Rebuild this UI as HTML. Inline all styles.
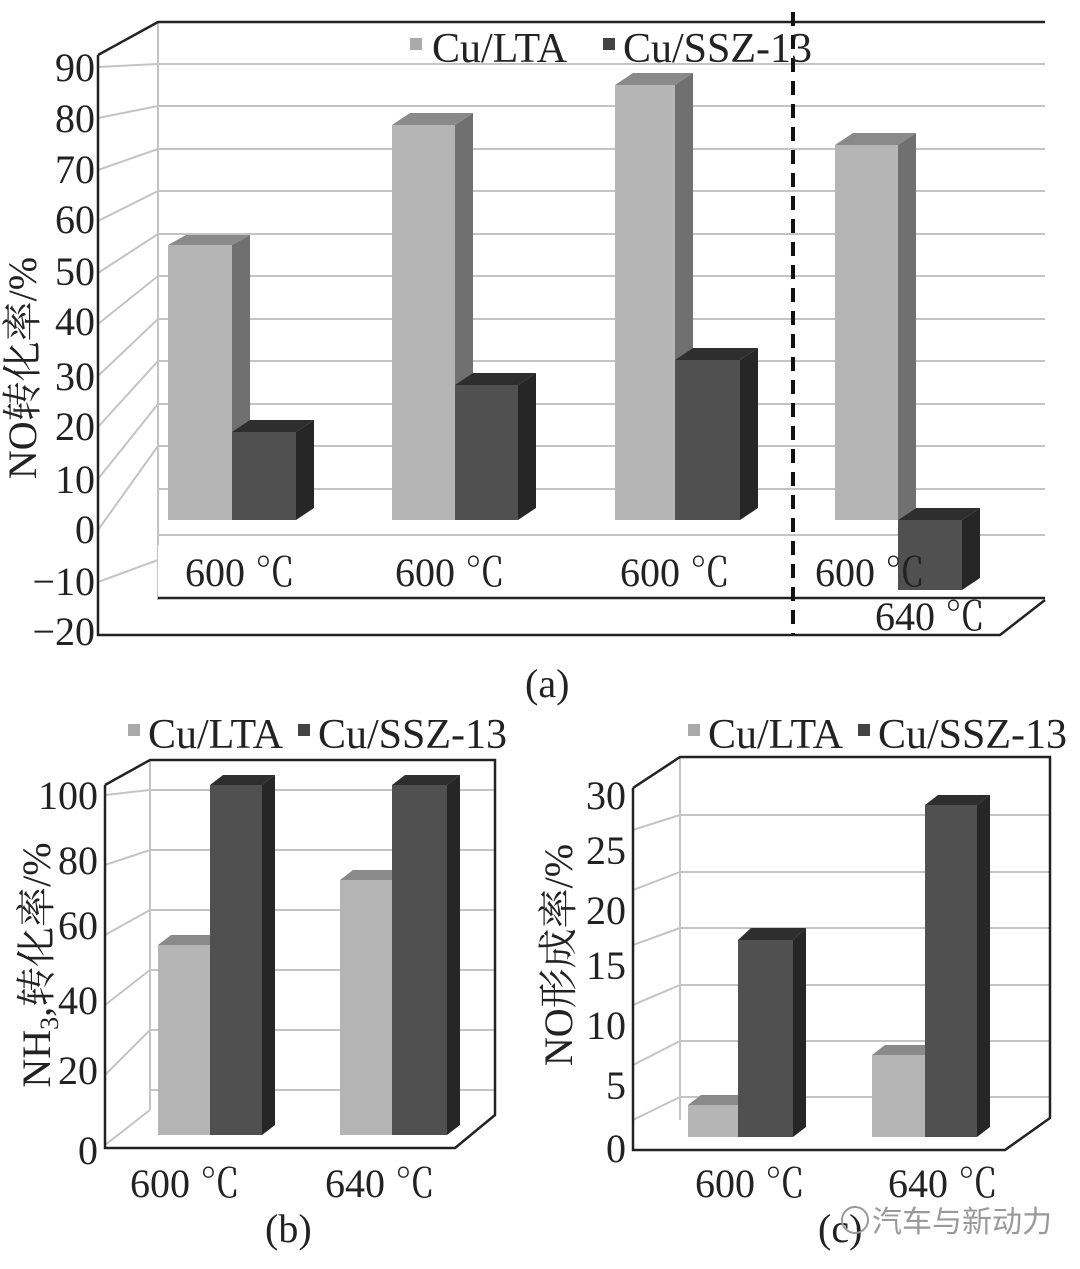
<!DOCTYPE html><html><head><meta charset="utf-8"><style>body{margin:0;background:#fff}svg{display:block}text{font-family:"Liberation Serif","Noto Serif CJK SC",serif;fill:#222}</style></head><body>
<svg width="1080" height="1269" viewBox="0 0 1080 1269" xmlns="http://www.w3.org/2000/svg">
<!-- ===== Chart a ===== -->
<g stroke="#c4c4c4" stroke-width="2" fill="none">
<path d="M158 64H1045M158 106H1045M158 149H1045M158 191H1045M158 234H1045M158 276H1045M158 319H1045M158 361H1045M158 404H1045M158 446H1045M158 489H1045M158 535H1045"/>
<path d="M98 67L158 64M98 118L158 106M98 170L158 149M98 221L158 191M98 273L158 234M98 324L158 276M98 376L158 319M98 427L158 361M98 479L158 404M98 530L158 446M98 582L158 560"/>
<path d="M158 22V600"/>
</g>
<rect x="158" y="545" width="887" height="53" fill="#fff"/>
<g stroke="#222" stroke-width="2.5" fill="none">
<path d="M98 55L158 22H1045"/>
<path d="M98 55V635H1000L1045 600"/>
<path d="M158 598H1045"/>
</g>
<line x1="793" y1="12" x2="793" y2="635" stroke="#111" stroke-width="4" stroke-dasharray="14,9"/>
<g>
<polygon points="168,245 186,235 250,235 232,245" fill="#8a8a8a"/><rect x="168" y="245" width="64" height="275" fill="#b5b5b5"/><polygon points="232,245 250,235 250,510 232,520" fill="#707070"/>
<polygon points="232,432 250,420 314,420 296,432" fill="#2e2e2e"/><rect x="232" y="432" width="64" height="88" fill="#505050"/><polygon points="296,432 314,420 314,508 296,520" fill="#262626"/>
<polygon points="392,125 410,113 473,113 455,125" fill="#8a8a8a"/><rect x="392" y="125" width="63" height="395" fill="#b5b5b5"/><polygon points="455,125 473,113 473,508 455,520" fill="#707070"/>
<polygon points="455,385 473,373 536,373 518,385" fill="#2e2e2e"/><rect x="455" y="385" width="63" height="135" fill="#505050"/><polygon points="518,385 536,373 536,508 518,520" fill="#262626"/>
<polygon points="615,85 633,73 693,73 675,85" fill="#8a8a8a"/><rect x="615" y="85" width="60" height="435" fill="#b5b5b5"/><polygon points="675,85 693,73 693,508 675,520" fill="#707070"/>
<polygon points="675,360 693,348 758,348 740,360" fill="#2e2e2e"/><rect x="675" y="360" width="65" height="160" fill="#505050"/><polygon points="740,360 758,348 758,508 740,520" fill="#262626"/>
<polygon points="835,145 853,133 916,133 898,145" fill="#8a8a8a"/><rect x="835" y="145" width="63" height="375" fill="#b5b5b5"/><polygon points="898,145 916,133 916,508 898,520" fill="#707070"/>
<polygon points="898,520 916,508 980,508 962,520" fill="#2e2e2e"/><rect x="898" y="520" width="64" height="70" fill="#505050"/><polygon points="962,520 980,508 980,578 962,590" fill="#262626"/>
</g>
<g font-size="40">
<text x="95" y="81" text-anchor="end">90</text><text x="95" y="132" text-anchor="end">80</text><text x="95" y="183" text-anchor="end">70</text><text x="95" y="233" text-anchor="end">60</text><text x="95" y="285" text-anchor="end">50</text><text x="95" y="335" text-anchor="end">40</text><text x="95" y="390" text-anchor="end">30</text><text x="95" y="440" text-anchor="end">20</text><text x="95" y="493" text-anchor="end">10</text><text x="95" y="543" text-anchor="end">0</text><text x="95" y="595" text-anchor="end">−10</text><text x="95" y="645" text-anchor="end">−20</text>
<text x="185" y="586">600 ℃</text><text x="395" y="586">600 ℃</text><text x="620" y="586">600 ℃</text><text x="815" y="586">600 ℃</text><text x="875" y="630">640 ℃</text>
<text x="22" y="368" text-anchor="middle" transform="rotate(-90 22 368)" dy="14">NO转化率/%</text>
<text x="525" y="697">(a)</text>
</g>
<rect x="410" y="38" width="12" height="12" fill="#aaa"/><text x="432" y="62" font-size="42">Cu/LTA</text>
<rect x="603" y="38" width="12" height="12" fill="#444"/><text x="623" y="62" font-size="42">Cu/SSZ-13</text>

<!-- ===== Chart b ===== -->
<g stroke="#c4c4c4" stroke-width="2" fill="none">
<path d="M150 790H495M150 850H495M150 910H495M150 970H495M150 1030H495M150 1090H495"/>
<path d="M105 795L150 790M105 865L150 850M105 935L150 910M105 1005L150 970M105 1075L150 1030M105 1145L150 1110"/>
<path d="M150 760V1110"/>
</g>
<g stroke="#222" stroke-width="2.5" fill="none"><path d="M105 785L150 760H495V1115L455 1148H105V785"/></g>
<g>
<polygon points="158,945 171,935 223,935 210,945" fill="#8a8a8a"/><rect x="158" y="945" width="52" height="190" fill="#b5b5b5"/><polygon points="210,945 223,935 223,1125 210,1135" fill="#707070"/>
<polygon points="210,785 223,775 275,775 262,785" fill="#2e2e2e"/><rect x="210" y="785" width="52" height="350" fill="#505050"/><polygon points="262,785 275,775 275,1125 262,1135" fill="#262626"/>
<polygon points="340,880 353,870 405,870 392,880" fill="#8a8a8a"/><rect x="340" y="880" width="52" height="255" fill="#b5b5b5"/><polygon points="392,880 405,870 405,1125 392,1135" fill="#707070"/>
<polygon points="392,785 405,775 460,775 447,785" fill="#2e2e2e"/><rect x="392" y="785" width="55" height="350" fill="#505050"/><polygon points="447,785 460,775 460,1125 447,1135" fill="#262626"/>
</g>
<g font-size="40">
<text x="98" y="809" text-anchor="end">100</text><text x="98" y="874" text-anchor="end">80</text><text x="98" y="939" text-anchor="end">60</text><text x="98" y="1014" text-anchor="end">40</text><text x="98" y="1084" text-anchor="end">20</text><text x="98" y="1164" text-anchor="end">0</text>
<text x="130" y="1197">600 ℃</text><text x="325" y="1197">640 ℃</text>
<text x="265" y="1242">(b)</text>
<text x="36" y="965" text-anchor="middle" transform="rotate(-90 36 965)" dy="14">NH<tspan font-size="26" dy="8">3</tspan><tspan dy="-8">,转化率/%</tspan></text>
</g>
<rect x="128" y="724" width="12" height="12" fill="#aaa"/><text x="148" y="748" font-size="42">Cu/LTA</text>
<rect x="298" y="724" width="12" height="12" fill="#444"/><text x="318" y="748" font-size="42">Cu/SSZ-13</text>

<!-- ===== Chart c ===== -->
<g stroke="#c4c4c4" stroke-width="2" fill="none">
<path d="M680 815H1050M680 872H1050M680 928H1050M680 985H1050M680 1041H1050M680 1097H1050"/>
<path d="M633 830L680 815M633 890L680 872M633 945L680 928M633 1005L680 985M633 1065L680 1041M633 1120L680 1097"/>
<path d="M680 757V1120"/>
</g>
<g stroke="#222" stroke-width="2.5" fill="none"><path d="M633 788L680 757H1050V1118L1005 1150H633V788"/></g>
<g>
<polygon points="688,1105 701,1095 751,1095 738,1105" fill="#8a8a8a"/><rect x="688" y="1105" width="50" height="32" fill="#b5b5b5"/><polygon points="738,1105 751,1095 751,1127 738,1137" fill="#707070"/>
<polygon points="738,940 751,928 806,928 793,940" fill="#2e2e2e"/><rect x="738" y="940" width="55" height="197" fill="#505050"/><polygon points="793,940 806,928 806,1127 793,1137" fill="#262626"/>
<polygon points="872,1055 885,1045 938,1045 925,1055" fill="#8a8a8a"/><rect x="872" y="1055" width="53" height="82" fill="#b5b5b5"/><polygon points="925,1055 938,1045 938,1127 925,1137" fill="#707070"/>
<polygon points="925,805 938,795 990,795 977,805" fill="#2e2e2e"/><rect x="925" y="805" width="52" height="332" fill="#505050"/><polygon points="977,805 990,795 990,1127 977,1137" fill="#262626"/>
</g>
<g font-size="40">
<text x="626" y="809" text-anchor="end">30</text><text x="626" y="864" text-anchor="end">25</text><text x="626" y="924" text-anchor="end">20</text><text x="626" y="979" text-anchor="end">15</text><text x="626" y="1039" text-anchor="end">10</text><text x="626" y="1099" text-anchor="end">5</text><text x="626" y="1162" text-anchor="end">0</text>
<text x="695" y="1197">600 ℃</text><text x="888" y="1197">640 ℃</text>
<text x="818" y="1242">(c)</text>
<text x="558" y="955" text-anchor="middle" transform="rotate(-90 558 955)" dy="14">NO形成率/%</text>
</g>
<rect x="688" y="724" width="12" height="12" fill="#aaa"/><text x="708" y="748" font-size="42">Cu/LTA</text>
<rect x="858" y="724" width="12" height="12" fill="#444"/><text x="878" y="748" font-size="42">Cu/SSZ-13</text>
<circle cx="855" cy="1220" r="13" fill="none" stroke="#999" stroke-width="2"/>
<text x="872" y="1232" font-size="30" style="font-family:'Noto Sans CJK SC',sans-serif;fill:#999">汽车与新动力</text>
</svg>
</body></html>
